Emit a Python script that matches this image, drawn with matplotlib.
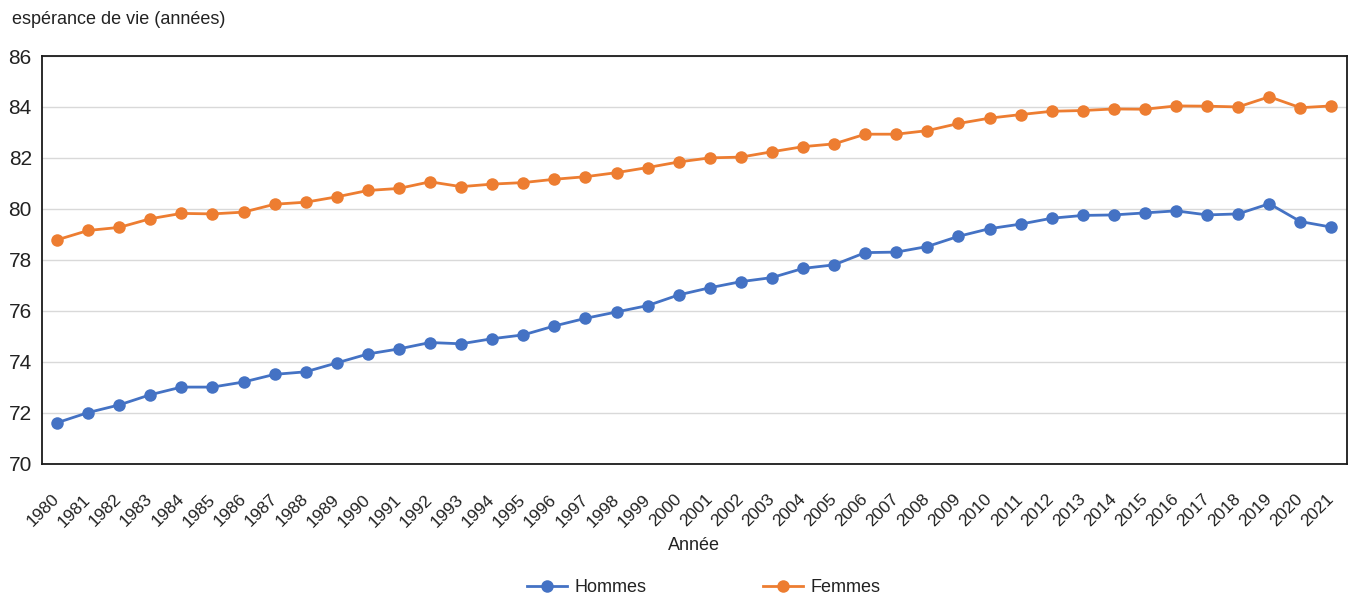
import matplotlib
matplotlib.use("Agg")
import matplotlib.pyplot as plt
from matplotlib import font_manager

years = list(range(1980, 2022))
hommes = [71.6, 72.0, 72.3, 72.7, 73.0, 73.0, 73.2, 73.5, 73.6, 73.95,
          74.3, 74.5, 74.75, 74.7, 74.9, 75.05, 75.4, 75.7, 75.95, 76.2,
          76.62, 76.9, 77.14, 77.3, 77.66, 77.8, 78.28, 78.3, 78.52, 78.92,
          79.22, 79.4, 79.63, 79.74, 79.76, 79.84, 79.92, 79.76, 79.8, 80.2,
          79.5, 79.28]
femmes = [78.78, 79.15, 79.27, 79.61, 79.82, 79.8, 79.87, 80.18, 80.26, 80.47,
          80.72, 80.8, 81.06, 80.87, 80.97, 81.03, 81.16, 81.26, 81.42, 81.62,
          81.84, 82.0, 82.03, 82.24, 82.44, 82.55, 82.93, 82.93, 83.07, 83.35,
          83.56, 83.7, 83.83, 83.86, 83.92, 83.91, 84.04, 84.03, 84.0, 84.4,
          83.97, 84.04]
yticks = [70, 72, 74, 76, 78, 80, 82, 84, 86]
title_text = "espérance de vie (années)"
xlabel_text = "Année"
series_names = ["Hommes", "Femmes"]
colors = ["#4472C4", "#ED7D31"]

names = {f.name for f in font_manager.fontManager.ttflist}
fam = "Liberation Sans Narrow" if "Liberation Sans Narrow" in names else "Liberation Sans"
plt.rcParams["font.family"] = [fam, "DejaVu Sans"]
TXT = "#222222"

fig = plt.figure(figsize=(13.5, 5.96), dpi=100)
W, H = 1350, 596
ax = fig.add_axes([41.5 / W, 1 - 463.5 / H, (1347 - 41.5) / W, (463.5 - 56) / H])

x = list(range(len(years)))
for vals, name, c in zip([hommes, femmes], series_names, colors):
    ax.plot(x, vals, color=c, lw=2.0, marker="o", markersize=9,
            markeredgewidth=0, label=name, zorder=3)

ax.set_xlim(-0.5, len(years) - 0.5)
ax.set_ylim(70, 86)
ax.set_yticks(yticks)
ax.set_yticklabels([str(v) for v in yticks], fontsize=15, color=TXT)
ax.set_xticks(x)
ax.set_xticklabels([str(y) for y in years], rotation=45, ha="right",
                   rotation_mode="anchor", va="center", fontsize=12.5, color=TXT)
ax.tick_params(axis="x", length=0, pad=24)
ax.tick_params(axis="y", length=0, pad=7)
ax.grid(axis="y", color="#D9D9D9", lw=1.0, zorder=0)
ax.set_axisbelow(True)
for s in ax.spines.values():
    s.set_color("#1a1a1a")
    s.set_linewidth(1.3)

fig.text(12 / W, 1 - 20 / H, title_text, fontsize=13, color=TXT, ha="left", va="center")
fig.text(694 / W, 1 - 546 / H, xlabel_text, fontsize=13, color=TXT, ha="center", va="center")

fs = 13
fspx = fs * 100 / 72
fig.legend(loc="center", bbox_to_anchor=(703.5 / W, 1 - 588 / H), ncol=2, frameon=False,
           fontsize=fs, handlelength=40 / fspx, handletextpad=7 / fspx,
           columnspacing=117 / fspx, borderpad=0, labelcolor=TXT)

fig.savefig("out.png", dpi=100)
